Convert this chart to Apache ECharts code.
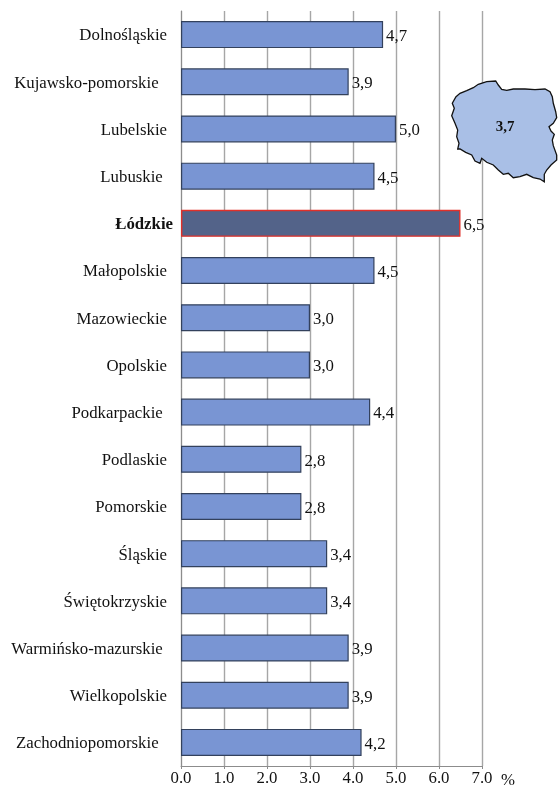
<!DOCTYPE html>
<html><head><meta charset="utf-8">
<style>html,body{margin:0;padding:0;background:#fff}#c{width:558px;height:787px}</style>
<script src="https://cdn.jsdelivr.net/npm/echarts@6/dist/echarts.min.js"></script></head>
<body><div id="c"></div>
<script>
const categories = ["Dolnośląskie","Kujawsko-pomorskie  ","Lubelskie","Lubuskie ","Łódzkie","Małopolskie","Mazowieckie","Opolskie","Podkarpackie ","Podlaskie","Pomorskie","Śląskie","Świętokrzyskie","Warmińsko-mazurskie ","Wielkopolskie","Zachodniopomorskie  "];
const values = [4.7,3.9,5.0,4.5,6.5,4.5,3.0,3.0,4.4,2.8,2.8,3.4,3.4,3.9,3.9,4.2];
const highlighted = "Łódzkie";
const xTicks = ["0.0","1.0","2.0","3.0","4.0","5.0","6.0","7.0"];
const nationalValue = "3,7";
const unit = "%";
const FONT = "'Liberation Serif','Times New Roman',serif";
const FS = 16.8;
const mapOutline = [[456,96.7],[460,93.3],[466.7,90.7],[473.3,87.7],[478.3,84.3],[486.7,81.7],[495.7,81],[498.3,85],[501.7,89.3],[506.7,90.3],[513.3,89],[525,89],[535,89.7],[545,89],[550,91.7],[552.3,96.7],[553.3,103.3],[555.7,111.7],[556.7,117.7],[553.3,123.3],[549,126.7],[551,131],[554.3,134.3],[552.3,140],[553.3,145.7],[556.7,155],[556.7,160],[551,165],[546.7,170],[544.3,174.3],[544.3,181.7],[540,179],[533.3,177.7],[526.7,174.3],[520,176.7],[513.3,177.7],[508.3,173.3],[503.3,174.3],[498.3,170],[493.3,165],[486.7,162.3],[481.7,158.3],[480,163.3],[475,161],[471.7,155],[465.7,152.3],[460,149],[457.7,149],[459,143.3],[456.7,136.7],[457.7,130],[455,123.3],[451.7,115.7],[454.3,108.3],[452.3,103.3]];
const chart = echarts.init(document.getElementById('c'), null, {renderer:'canvas'});
chart.setOption({
  animation:false,
  backgroundColor:'#fff',
  grid:{left:181,right:76,top:11,bottom:19,containLabel:false},
  xAxis:{type:'value',min:0,max:7,interval:1,
    axisLine:{show:true,onZero:false,lineStyle:{color:'#8c8c8c',width:1}},
    axisTick:{show:true,length:3,inside:false,lineStyle:{color:'#8c8c8c'}},
    axisLabel:{fontFamily:FONT,fontSize:FS,color:'#111',margin:4,formatter:(v)=>xTicks[v]},
    splitLine:{show:true,lineStyle:{color:'#a6a6a6',width:1.4}}},
  yAxis:{type:'category',inverse:true,data:categories,
    axisLine:{show:true,onZero:false,lineStyle:{color:'#8c8c8c',width:1}},
    axisTick:{show:false},
    axisLabel:{margin:8,fontFamily:FONT,fontSize:FS,color:'#111',
      formatter:(v)=>v===highlighted?`{b|${v}}`:`{n|${v}}`,
      rich:{b:{fontFamily:FONT,fontSize:FS,fontWeight:'bold',color:'#111',padding:[3,0,0,0]},
            n:{fontFamily:FONT,fontSize:FS,color:'#111',padding:[3,6,0,0]}}}},
  series:[{type:'bar',barWidth:27,
    data:values.map((v,i)=>({value:v,itemStyle:categories[i]===highlighted?{color:'#536389',borderColor:'#e0302a',borderWidth:1.4}:{color:'#7995d3',borderColor:'#33415c',borderWidth:1.2}})),
    label:{show:true,position:'right',distance:3,offset:[0,2],fontFamily:FONT,fontSize:FS,color:'#111',formatter:(p)=>p.value.toFixed(1).replace('.',',')}}],
  graphic:[
    {type:'polygon',shape:{points:mapOutline},style:{fill:'#a9bfe6',stroke:'#111',lineWidth:1.3},z:10},
    {type:'text',x:505,y:127,style:{text:nationalValue,font:'bold 15px '+FONT,fill:'#111',textAlign:'center',textVerticalAlign:'middle'},z:11},
    {type:'text',x:501,y:772,style:{text:unit,font:FS+'px '+FONT,fill:'#111',textAlign:'left'},z:11}
  ]
});
</script></body></html>
